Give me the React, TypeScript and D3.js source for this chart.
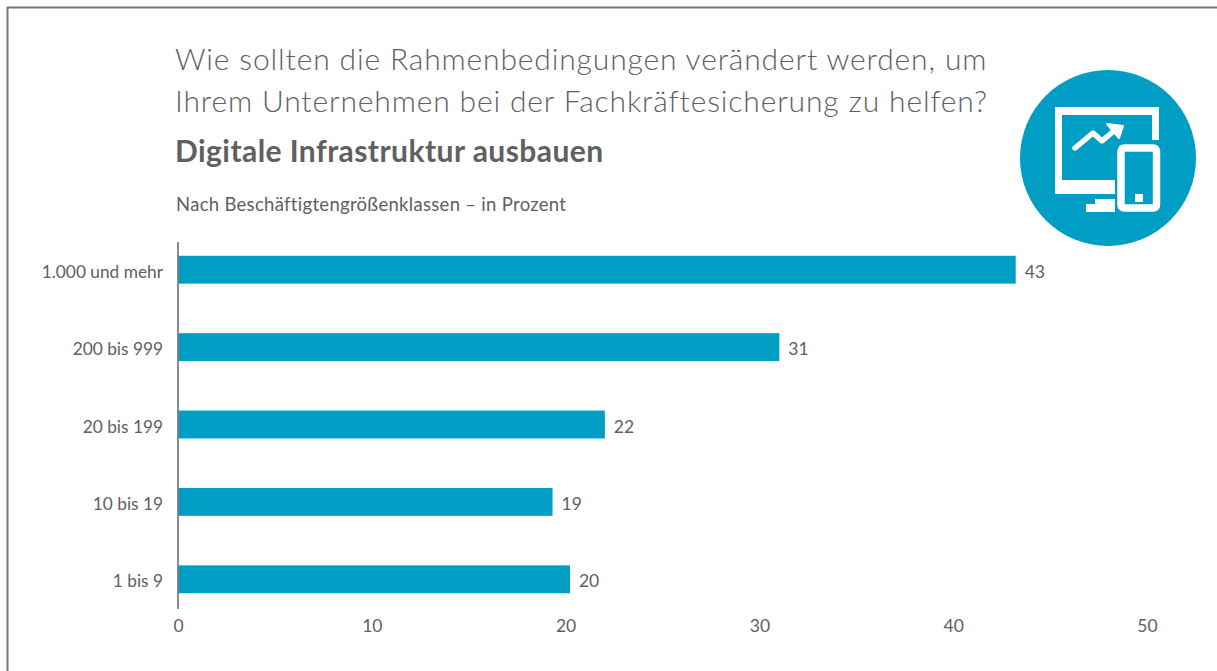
import React from 'react';
import * as d3 from 'd3';

const categories = ['1.000 und mehr', '200 bis 999', '20 bis 199', '10 bis 19', '1 bis 9'];
const values = [43.2, 31, 22, 19.3, 20.2];
const xTicks = [0, 10, 20, 30, 40, 50];
const titleLines = [
  'Wie sollten die Rahmenbedingungen verändert werden, um',
  'Ihrem Unternehmen bei der Fachkräftesicherung zu helfen?',
];
const subtitle = 'Digitale Infrastruktur ausbauen';
const note = 'Nach Beschäftigtengrößenklassen – in Prozent';

const BLUE = '#009dc4';
const TEXT = '#606062';
const FONT = "Lato, sans-serif";

const x = d3.scaleLinear().domain([0, 50]).range([178.5, 1147.5]);
const y = d3.scaleBand().domain(categories).range([231, 618]).paddingInner(0.64).paddingOuter(0.32);

// device icon: monitor + phone, in the circle's own coordinates
function Icon() {
  return (
    <g transform="translate(1108,158)">
      <circle r={88} fill={BLUE} />
      <path
        d="M-53,-51 H51 V-18 H44 V-43 H-46 V22 H7 V36 H-53 Z"
        fill="#fff"
        fillRule="evenodd"
      />
      <path d="M-33,-10 L-15,-25 L-6,-17 L7,-28" fill="none" stroke="#fff" strokeWidth={5.5} strokeLinecap="round" strokeLinejoin="round" />
      <path d="M-1,-34 L15,-32 L11,-20 Z" fill="#fff" stroke="#fff" strokeWidth={2} strokeLinejoin="round" />
      <rect x={13} y={-10} width={35.5} height={60} rx={3} fill={BLUE} stroke="#fff" strokeWidth={7.5} />
      <rect x={27} y={36} width={8} height={8} fill="#fff" />
      <path d="M-13,41 H7 V54 H-22 V46 H-13 Z" fill="#fff" />
    </g>
  );
}

export default function App() {
  return (
    <svg
      width={1217}
      height={671}
      style={{ position: 'absolute', left: 0, top: 0, background: '#fff' }}
      fontFamily={FONT}
    >
      <path d="M7.5,671 V7.5 H1217" fill="none" stroke="#777" strokeWidth={2} />

      {titleLines.map((t, i) => (
        <text key={t} x={175} y={70 + i * 42} fontSize={30} fill={TEXT} fontWeight={300} letterSpacing={0.86}>
          {t}
        </text>
      ))}
      <text x={175} y={162} fontSize={30} fontWeight={700} fill={TEXT} letterSpacing={0.44}>
        {subtitle}
      </text>
      <text x={176} y={211} fontSize={18.5} fill={TEXT} letterSpacing={0.3}>
        {note}
      </text>

      <Icon />

      {categories.map((c, i) => (
        <g key={c}>
          <rect
            x={x(0)}
            y={y(c)}
            width={x(values[i]) - x(0)}
            height={y.bandwidth()}
            fill={BLUE}
          />
          <text
            x={163}
            y={(y(c) as number) + y.bandwidth() / 2 + 2}
            dy="0.35em"
            textAnchor="end"
            fontSize={17.3}
            fill={TEXT}
          >
            {c}
          </text>
          <text
            x={x(values[i]) + 9}
            y={(y(c) as number) + y.bandwidth() / 2 + 2}
            dy="0.35em"
            fontSize={17.5}
            fill={TEXT}
          >
            {d3.format('.0f')(values[i])}
          </text>
        </g>
      ))}

      <line x1={178} x2={178} y1={242} y2={609} stroke="#666" strokeWidth={1.5} />

      {xTicks.map((t) => (
        <text key={t} x={x(t)} y={632} textAnchor="middle" fontSize={17.5} fill={TEXT}>
          {t}
        </text>
      ))}
    </svg>
  );
}
